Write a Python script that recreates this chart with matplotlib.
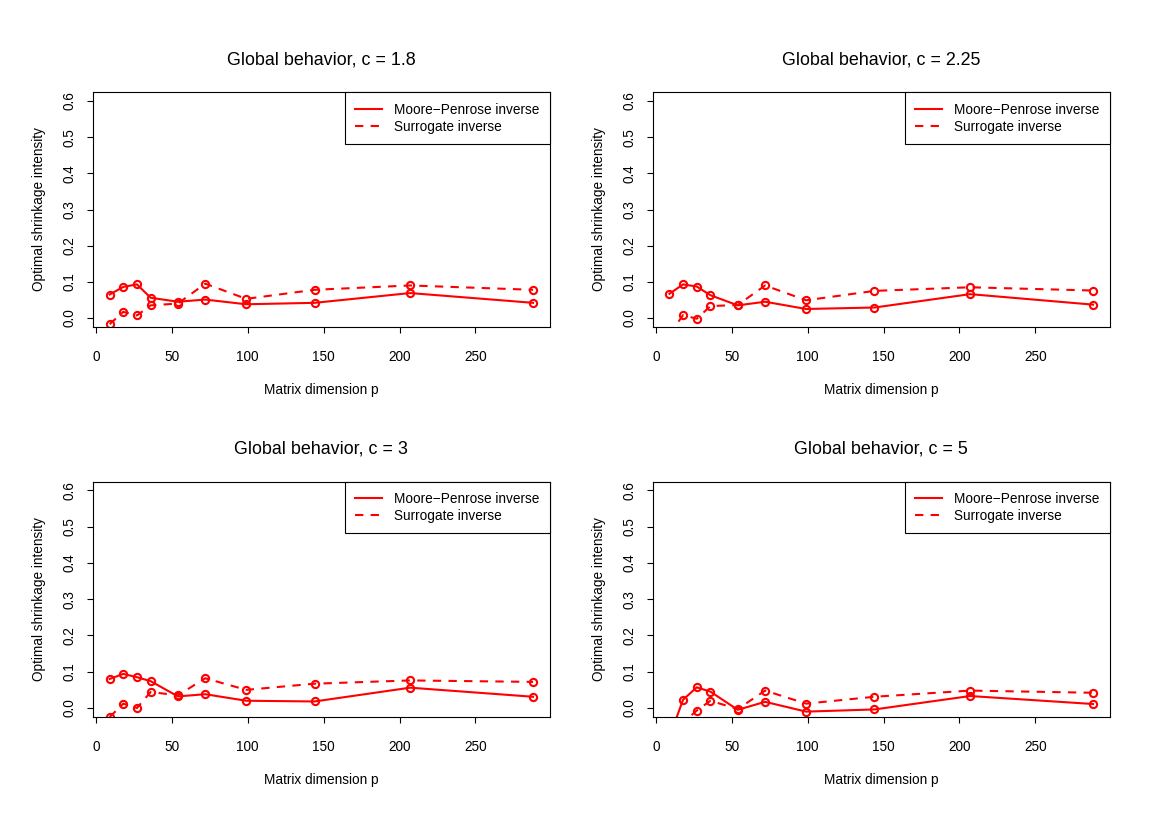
import matplotlib
matplotlib.use("Agg")
import matplotlib.pyplot as plt

plt.rcParams['font.family'] = ['Liberation Sans', 'DejaVu Sans']

p = [9, 18, 27, 36, 54, 72, 99, 144, 207, 288]

c_values = ["1.8", "2.25", "3", "5"]

mp_c18 = [0.065, 0.086, 0.093, 0.056, 0.045, 0.051, 0.038, 0.042, 0.069, 0.042]
sur_c18 = [-0.017, 0.017, 0.007, 0.035, 0.040, 0.095, 0.053, 0.078, 0.090, 0.078]

mp_c225 = [0.067, 0.093, 0.087, 0.063, 0.035, 0.045, 0.025, 0.029, 0.066, 0.037]
sur_c225 = [-0.045, 0.008, -0.002, 0.033, 0.036, 0.090, 0.049, 0.075, 0.085, 0.076]

mp_c3 = [0.080, 0.094, 0.085, 0.074, 0.032, 0.038, 0.020, 0.018, 0.056, 0.031]
sur_c3 = [-0.025, 0.012, 0.000, 0.044, 0.035, 0.082, 0.050, 0.067, 0.076, 0.072]

mp_c5 = [-0.080, 0.023, 0.057, 0.045, -0.005, 0.017, -0.010, -0.004, 0.033, 0.011]
sur_c5 = [-0.080, -0.040, -0.007, 0.020, -0.003, 0.048, 0.012, 0.031, 0.048, 0.042]

mp_series = [mp_c18, mp_c225, mp_c3, mp_c5]
sur_series = [sur_c18, sur_c225, sur_c3, sur_c5]

x_ticks = [0, 50, 100, 150, 200, 250]
y_ticks = [0.0, 0.1, 0.2, 0.3, 0.4, 0.5, 0.6]
y_tick_labels = ["0.0", "0.1", "0.2", "0.3", "0.4", "0.5", "0.6"]

legend_labels = ["Moore\u2212Penrose inverse", "Surrogate inverse"]

W, H = 1168, 827
fig = plt.figure(figsize=(W / 100, H / 100), dpi=100)

# panel boxes in pixels: (left, top, right, bottom)
boxes = [
    (92.7, 92.3, 550.0, 326.7),
    (652.5, 92.3, 1110.0, 326.7),
    (92.7, 481.7, 550.0, 716.7),
    (652.5, 481.7, 1110.0, 716.7),
]

RED = "#FF0000"
FS = 9.8

for i, (l, t, r, b) in enumerate(boxes):
    ax = fig.add_axes([l / W, 1 - b / H, (r - l) / W, (b - t) / H])
    ax.plot(p, mp_series[i], color=RED, lw=1.5, marker='o', ms=5.2,
            mfc='none', mew=1.5, linestyle='-', label=legend_labels[0])
    ax.plot(p, sur_series[i], color=RED, lw=1.5, marker='o', ms=5.2,
            mfc='none', mew=1.5, linestyle=(0, (4, 3.5)), label=legend_labels[1])
    ax.set_xlim(-2.16, 299.16)
    ax.set_ylim(-0.024, 0.624)
    ax.set_xticks(x_ticks)
    ax.set_xticklabels([str(v) for v in x_ticks], fontsize=FS)
    ax.set_yticks(y_ticks)
    ax.set_yticklabels(y_tick_labels, fontsize=FS, rotation=90, va='center')
    ax.tick_params(direction='out', length=4.5, width=0.8, color='black')
    ax.tick_params(axis='x', pad=12)
    ax.tick_params(axis='y', pad=7)
    for s in ax.spines.values():
        s.set_linewidth(0.8)
        s.set_color('black')
    ax.set_title("Global behavior, c = " + c_values[i], fontsize=12.9, pad=20)
    ax.set_xlabel("Matrix dimension p", fontsize=FS, labelpad=14)
    ax.set_ylabel("Optimal shrinkage intensity", fontsize=FS, labelpad=12)
    leg = ax.legend(loc='upper right', borderaxespad=0, fancybox=False,
                    edgecolor='black', framealpha=1, fontsize=FS,
                    handlelength=2.0, handletextpad=0.9, borderpad=0.75,
                    labelspacing=0.22, markerscale=0)
    leg.get_frame().set_linewidth(0.8)
    for h in leg.legend_handles:
        h.set_marker('')

fig.savefig("out.png", dpi=100)
